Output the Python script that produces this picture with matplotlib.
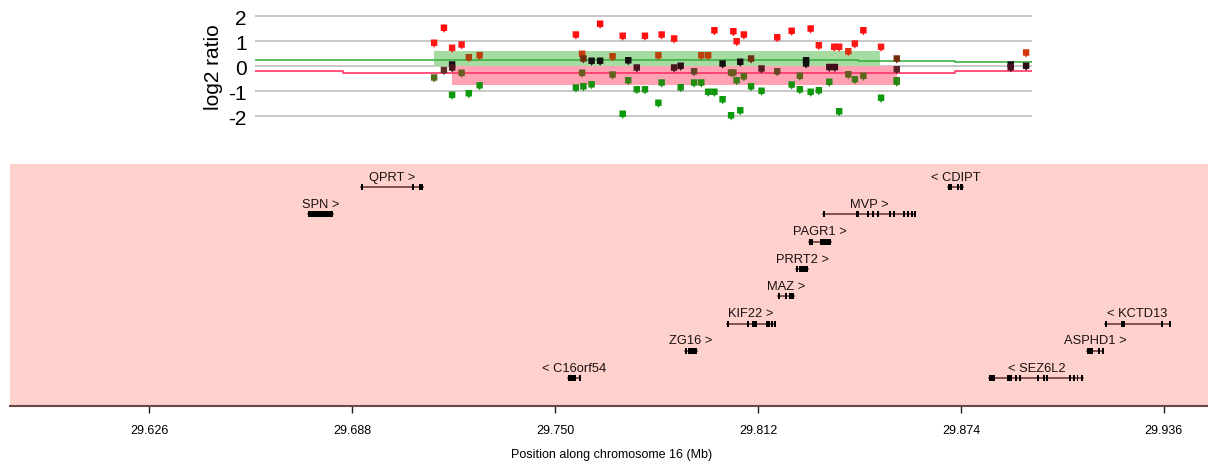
import matplotlib
matplotlib.use("Agg")
import matplotlib.pyplot as plt
from matplotlib.colors import LinearSegmentedColormap, Normalize
from matplotlib.patches import Rectangle

plt.rcParams['font.family'] = ['Liberation Sans', 'DejaVu Sans']

# probe positions (Mb) and log2 ratios
probe_pos = [29.7131, 29.7131, 29.7161, 29.7161, 29.7186, 29.7186, 29.7186, 29.7186,
             29.7215, 29.7215, 29.7237, 29.7237, 29.7270, 29.7270, 29.7564, 29.7564,
             29.7583, 29.7583, 29.7587, 29.7587, 29.7612, 29.7612, 29.7638, 29.7638,
             29.7676, 29.7676, 29.7707, 29.7707, 29.7724, 29.7724, 29.7750, 29.7750,
             29.7775, 29.7775, 29.7816, 29.7816, 29.7826, 29.7826, 29.7864, 29.7864,
             29.7884, 29.7884, 29.7925, 29.7925, 29.7947, 29.7947, 29.7968, 29.7968,
             29.7987, 29.7987, 29.8012, 29.8012, 29.8038, 29.8038, 29.8045, 29.8045,
             29.8055, 29.8055, 29.8066, 29.8066, 29.8077, 29.8077, 29.8099, 29.8099,
             29.8131, 29.8131, 29.8179, 29.8179, 29.8223, 29.8223, 29.8248, 29.8248,
             29.8267, 29.8267, 29.8281, 29.8281, 29.8306, 29.8306, 29.8338, 29.8338,
             29.8353, 29.8355, 29.8368, 29.8368, 29.8396, 29.8396, 29.8416, 29.8416,
             29.8442, 29.8442, 29.8496, 29.8496, 29.8544, 29.8544, 29.8544, 29.8544,
             29.8892, 29.8892, 29.8939, 29.8939]
log2_vals = [0.94, -0.45, 1.54, -0.15, 0.74, 0.07, -0.05, -1.14,
             0.87, -0.26, 0.36, -1.08, 0.44, -0.76, 1.27, -0.85,
             0.50, -0.26, 0.31, -0.80, 0.22, -0.72, 1.70, 0.22,
             0.40, -0.33, 1.22, -1.90, 0.24, -0.56, -0.05, -0.92,
             1.22, -0.92, 0.44, -1.46, 1.27, -0.65, 1.11, -0.05,
             0.02, -0.84, -0.20, -0.65, 0.44, -0.65, 0.44, -1.02,
             1.44, -1.02, 0.11, -1.32, -0.25, -1.96, 1.40, -0.25,
             1.00, -0.56, 0.18, -1.76, 1.27, -0.40, 0.31, -0.80,
             -0.09, -0.98, 1.16, -0.20, 1.42, -0.73, -0.38, -0.92,
             0.24, 0.11, 1.51, -1.02, 0.84, -0.96, -0.03, -0.62,
             0.78, -0.03, 0.78, -1.80, 0.60, -0.32, 0.91, -0.52,
             1.44, -0.38, 0.78, -1.26, 0.31, -0.12, -0.56, -0.62,
             0.07, -0.04, 0.55, 0.02]

# threshold step lines
gain_x = [29.6584, 29.6853, 29.8426, 29.8722, 29.8957]
gain_y = [0.23, 0.25, 0.20, 0.15, 0.15]
loss_x = [29.6584, 29.6853, 29.8722, 29.8957]
loss_y = [-0.21, -0.29, -0.20, -0.20]

# called segments
gain_seg = (29.7131, 29.8493, 0.6)
loss_seg = (29.7186, 29.8544, -0.77)

# genes
gene_names = ["QPRT", "SPN", "CDIPT", "MVP", "PAGR1", "PRRT2", "MAZ", "KIF22",
              "KCTD13", "ZG16", "ASPHD1", "C16orf54", "SEZ6L2"]
gene_strand = ["+", "+", "-", "+", "+", "+", "+", "+", "-", "+", "+", "-", "-"]
gene_row = [0, 1, 0, 1, 2, 3, 4, 5, 5, 6, 6, 7, 7]
gene_start = [29.6907, 29.6747, 29.8701, 29.8320, 29.8277, 29.8236, 29.8182, 29.8026,
              29.9179, 29.7897, 29.9124, 29.7539, 29.8827]
gene_end = [29.7096, 29.6821, 29.8747, 29.8600, 29.8342, 29.8274, 29.8230, 29.8172,
            29.9379, 29.7933, 29.9175, 29.7576, 29.9114]
gene_exons = [
    [(29.6907, 29.6910), (29.7063, 29.7068), (29.7084, 29.7096)],
    [(29.6747, 29.6821)],
    [(29.8701, 29.8713), (29.8728, 29.8731), (29.8738, 29.8747)],
    [(29.8320, 29.8323), (29.8419, 29.8429), (29.8454, 29.8457), (29.8468, 29.8471),
     (29.8485, 29.8488), (29.8519, 29.8522), (29.8533, 29.8536), (29.8564, 29.8567),
     (29.8576, 29.8579), (29.8587, 29.8590), (29.8596, 29.8600)],
    [(29.8277, 29.8288), (29.8310, 29.8342)],
    [(29.8236, 29.8242), (29.8245, 29.8274)],
    [(29.8182, 29.8187), (29.8203, 29.8205), (29.8215, 29.8230)],
    [(29.8026, 29.8029), (29.8086, 29.8089), (29.8101, 29.8118), (29.8145, 29.8148),
     (29.8152, 29.8155), (29.8160, 29.8163), (29.8169, 29.8172)],
    [(29.9179, 29.9185), (29.9228, 29.9231), (29.9234, 29.9237), (29.9350, 29.9353),
     (29.9375, 29.9379)],
    [(29.7897, 29.7903), (29.7907, 29.7933)],
    [(29.9124, 29.9143), (29.9159, 29.9162), (29.9172, 29.9175)],
    [(29.7539, 29.7564), (29.7573, 29.7576)],
    [(29.8827, 29.8830), (29.8833, 29.8836), (29.8839, 29.8842), (29.8881, 29.8896),
     (29.8905, 29.8908), (29.8916, 29.8919), (29.8973, 29.8976), (29.8991, 29.8994),
     (29.8999, 29.9002), (29.9071, 29.9074), (29.9081, 29.9084), (29.9093, 29.9096),
     (29.9106, 29.9114)],
]

tick_vals = [29.626, 29.688, 29.750, 29.812, 29.874, 29.936]
tick_labels = ["29.626", "29.688", "29.750", "29.812", "29.874", "29.936"]

fig = plt.figure(figsize=(12.08, 4.64), dpi=100)

# ---- top panel: log2 ratios
ax = fig.add_axes([0.2111, 0.7263, 0.6432, 0.2565])
ax.set_xlim(29.6584, 29.8957)
ax.set_ylim(-2.39, 2.37)
for v in [-2, -1, 0, 1, 2]:
    ax.axhline(v, color="#c4c4c4", lw=1.3, zorder=0)
ax.add_patch(Rectangle((gain_seg[0], 0), gain_seg[1] - gain_seg[0], gain_seg[2],
                       color="#a6dba2", lw=0, zorder=1))
ax.add_patch(Rectangle((loss_seg[0], loss_seg[2]), loss_seg[1] - loss_seg[0], -loss_seg[2],
                       color="#ffa3b4", lw=0, zorder=1))
ax.step(gain_x, gain_y, where="post", color="#3cb043", lw=1.2, zorder=2)
ax.step(loss_x, loss_y, where="post", color="#ff3366", lw=1.2, zorder=2)

cmap = LinearSegmentedColormap.from_list("ratio", [
    (0.0, "#0a9a0a"), (0.16, "#1a9010"), (0.23, "#507018"), (0.30, "#6b5820"),
    (0.34, "#5a2028"), (0.37, "#3a0a18"), (0.40, "#101010"), (0.455, "#141010"),
    (0.48, "#a8400c"), (0.53, "#c4400c"), (0.59, "#ff1a1a"), (1.0, "#ff0000")])
norm = Normalize(-1.2, 2.0)
pin = [(-1, -1), (-1, 1), (1, 1), (1, -1), (0.35, -1), (0, -1.6), (-0.35, -1), (-1, -1)]
ax.scatter(probe_pos, log2_vals, c=log2_vals, cmap=cmap, norm=norm, marker=pin,
           s=55, linewidths=0, zorder=3)

ax.set_yticks([-2, -1, 0, 1, 2])
ax.set_yticklabels(["-2", "-1", "0", "1", "2"], fontsize=15)
ax.tick_params(axis="y", length=0, pad=6)
ax.set_xticks([])
for s in ax.spines.values():
    s.set_visible(False)
ax.set_ylabel("log2 ratio", fontsize=15, labelpad=4)

# ---- gene panel
gx = fig.add_axes([0.00828, 0.1228, 0.99172, 0.5216])
gx.set_facecolor("#ffd1cd")
gx.set_xlim(29.58354, 29.94946)
gx.set_ylim(8.02, -0.842)
min_w = 0.0006
for i, name in enumerate(gene_names):
    r = gene_row[i]
    gx.plot([gene_start[i], gene_end[i]], [r, r], color="#5c2f2f", lw=1.1, zorder=2)
    for a, b in gene_exons[i]:
        w = max(b - a, min_w)
        gx.add_patch(Rectangle((a, r - 0.11), w, 0.22, color="black", lw=0, zorder=3))
    label = name + " >" if gene_strand[i] == "+" else "< " + name
    gx.text((gene_start[i] + gene_end[i]) / 2, r - 0.27, label, fontsize=9.3,
            ha="center", va="baseline", color="#1a1010")

for side in ["top", "left", "right"]:
    gx.spines[side].set_visible(False)
gx.spines["bottom"].set_color("#6b4848")
gx.spines["bottom"].set_linewidth(1.5)
gx.set_yticks([])
gx.set_xticks(tick_vals)
gx.set_xticklabels(tick_labels, fontsize=9)
gx.tick_params(axis="x", length=5, width=1, color="#222222", pad=8)

fig.text(612 / 1208, 1 - 455 / 464, "Position along chromosome 16 (Mb)", fontsize=9,
         ha="center", va="center")

fig.savefig("out.png", dpi=100)
